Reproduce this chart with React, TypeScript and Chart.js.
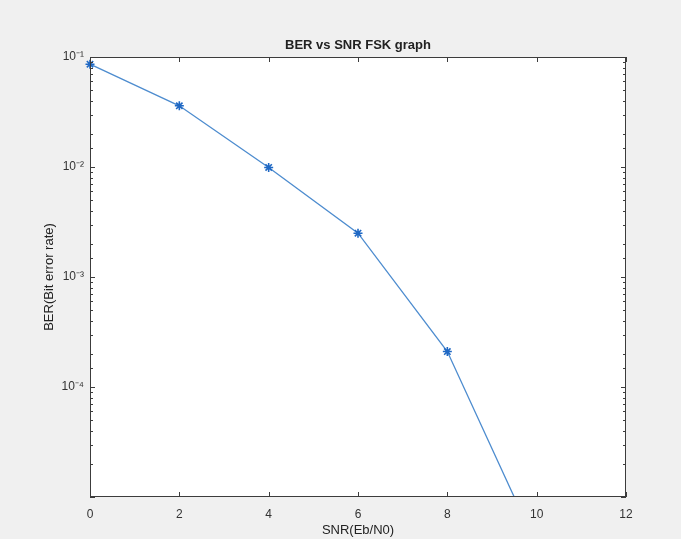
import React, { useEffect, useRef } from "react";
import { Chart, registerables } from "chart.js";

Chart.register(...registerables);

const snr = [0, 2, 4, 6, 8, 10];
const ber = [0.086, 0.036, 0.0099, 0.0025, 0.00021, 0.0000036];
const xTicks = [0, 2, 4, 6, 8, 10, 12];
const yDecades = [1e-1, 1e-2, 1e-3, 1e-4];
const decadeLabels = ["10⁻¹", "10⁻²", "10⁻³", "10⁻⁴"];
const chartTitle = "BER vs SNR FSK graph";

const FONT = "'Liberation Sans', Arial, Helvetica, sans-serif";
const AXIS = "#3c3c3c";

const bgPlugin = {
  id: "bg",
  beforeDraw(chart: any) {
    const { ctx, chartArea: a, width, height } = chart;
    ctx.save();
    ctx.fillStyle = "#f0f0f0";
    ctx.fillRect(0, 0, width, height);
    ctx.fillStyle = "#ffffff";
    ctx.fillRect(a.left, a.top, a.right - a.left, a.bottom - a.top);
    ctx.restore();
  },
  afterDatasetsDraw(chart: any) {
    const { ctx, chartArea: a, scales } = chart;
    ctx.save();
    ctx.strokeStyle = AXIS;
    ctx.lineWidth = 1;
    ctx.strokeRect(a.left + 0.5, a.top + 0.5, a.right - a.left - 1, a.bottom - a.top - 1);
    const xs = scales.x;
    ctx.beginPath();
    xs.ticks.forEach((t: any) => {
      const px = Math.round(xs.getPixelForValue(t.value)) + 0.5;
      ctx.moveTo(px, a.bottom);
      ctx.lineTo(px, a.bottom - 5);
      ctx.moveTo(px, a.top);
      ctx.lineTo(px, a.top + 5);
    });
    const ys = scales.y;
    ys.ticks.forEach((t: any) => {
      const v = t.value;
      const lg = Math.log10(v);
      const major = Math.abs(lg - Math.round(lg)) < 1e-6;
      const len = major ? 5 : 3;
      const py = Math.round(ys.getPixelForValue(v)) + 0.5;
      ctx.moveTo(a.left, py);
      ctx.lineTo(a.left + len, py);
      ctx.moveTo(a.right, py);
      ctx.lineTo(a.right - len, py);
    });
    ctx.stroke();
    // title centred over the plot area
    ctx.fillStyle = "#222";
    ctx.font = `bold 13px ${FONT}`;
    ctx.textAlign = "center";
    ctx.textBaseline = "middle";
    ctx.fillText(chartTitle, (a.left + a.right) / 2, a.top - 12);
    ctx.restore();
  },
};

export default function App() {
  const ref = useRef<HTMLCanvasElement>(null);
  useEffect(() => {
    if (!ref.current) return;
    const chart = new Chart(ref.current, {
      type: "line",
      data: {
        datasets: [
          {
            data: snr.map((x, i) => ({ x, y: ber[i] })),
            borderColor: "#4d8ccf",
            borderWidth: 1.3,
            pointStyle: "star",
            pointRadius: 4.5,
            pointBorderWidth: 1.6,
            pointBorderColor: "#1f68c4",
            pointBackgroundColor: "#1f68c4",
            tension: 0,
            clip: { left: 8, top: 8, right: 0, bottom: 0 } as any,
          },
        ],
      },
      plugins: [bgPlugin],
      options: {
        animation: false,
        responsive: false,
        devicePixelRatio: 1,
        layout: { padding: { top: 57, right: 55, bottom: 0, left: 0 } },
        plugins: {
          legend: { display: false },
          tooltip: { enabled: false },
          title: { display: false },
        },
        scales: {
          x: {
            type: "linear",
            min: 0,
            max: 12,
            afterFit: (s: any) => {
              s.height = 42;
            },
            afterBuildTicks: (s: any) => {
              s.ticks = xTicks.map((v) => ({ value: v }));
            },
            ticks: {
              color: "#333",
              font: { family: FONT, size: 12 },
              padding: 10,
              maxRotation: 0,
              autoSkip: false,
            },
            grid: { display: false, drawTicks: false },
            border: { display: false },
            title: {
              display: true,
              text: "SNR(Eb/N0)",
              color: "#222",
              font: { family: FONT, size: 13 },
              padding: { top: 0, bottom: 1 },
            },
          },
          y: {
            type: "logarithmic",
            min: 1e-5,
            max: 1e-1,
            afterFit: (s: any) => {
              s.width = 90;
            },
            ticks: {
              color: "#333",
              font: { family: FONT, size: 12 },
              padding: 6,
              autoSkip: false,
              callback: (v: any) => {
                const i = yDecades.findIndex((d) => Math.abs(v / d - 1) < 1e-6);
                return i >= 0 ? decadeLabels[i] : "";
              },
            },
            grid: { display: false, drawTicks: false },
            border: { display: false },
            title: {
              display: true,
              text: "BER(Bit error rate)",
              color: "#222",
              font: { family: FONT, size: 13 },
              padding: { top: 42, bottom: 0 },
            },
          },
        },
      },
    });
    return () => chart.destroy();
  }, []);
  return (
    <div style={{ position: "fixed", left: 0, top: 0, width: 681, height: 539 }}>
      <canvas ref={ref} width={681} height={539} style={{ width: 681, height: 539 }} />
    </div>
  );
}
